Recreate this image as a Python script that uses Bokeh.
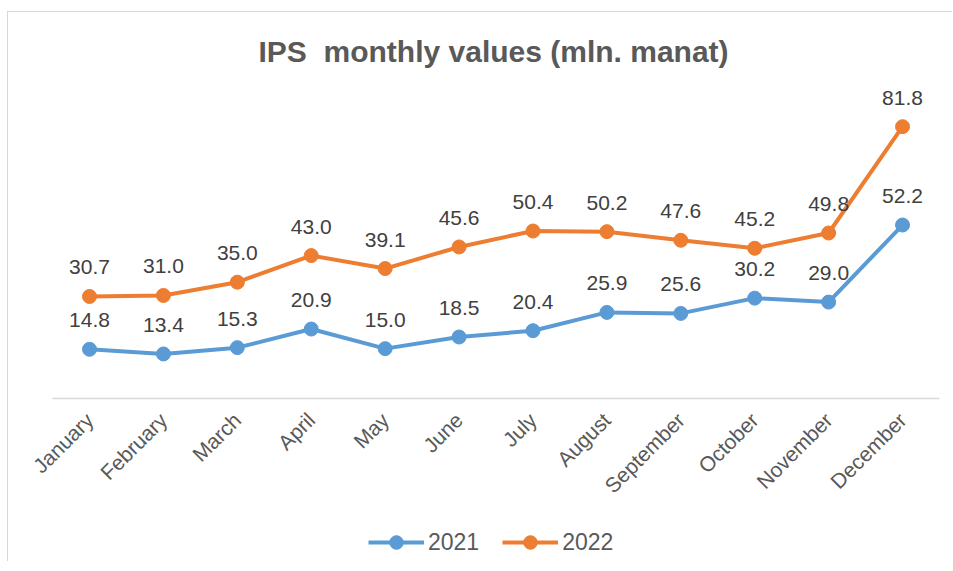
import math
from bokeh.plotting import figure
from bokeh.models import Range1d, ColumnDataSource, Legend, LegendItem, FixedTicker
from bokeh.core.properties import value
from bokeh.embed import file_html
from bokeh.resources import INLINE

months = ["January", "February", "March", "April", "May", "June", "July",
          "August", "September", "October", "November", "December"]
values_2021 = [14.8, 13.4, 15.3, 20.9, 15.0, 18.5, 20.4, 25.9, 25.6, 30.2, 29.0, 52.2]
values_2022 = [30.7, 31.0, 35.0, 43.0, 39.1, 45.6, 50.4, 50.2, 47.6, 45.2, 49.8, 81.8]
series_names = ["2021", "2022"]
colors = ["#5B9BD5", "#ED7D31"]

FONT = "Liberation Sans"
idx = list(range(len(months)))

p = figure(width=945, height=550, output_backend="svg", toolbar_location=None,
           x_range=Range1d(-1.096, 11.5),
           y_range=Range1d(-48.76, 97.2),
           min_border_left=0, min_border_right=14, min_border_top=63, min_border_bottom=2,
           margin=(11, 0, 0, 7),
           styles={"border-top": "1px solid #d9d9d9", "border-left": "1px solid #d9d9d9"})

p.outline_line_color = None
p.xgrid.visible = False
p.ygrid.visible = False
p.yaxis.visible = False

p.title.text = "IPS\u00a0 monthly values (mln. manat)"
p.title.align = "left"
p.title.text_font = FONT
p.title.text_font_size = "30px"
p.title.text_font_style = "bold"
p.title.text_color = "#595959"
p.title.offset = 250
p.title.standoff = 15

ax = p.xaxis[0]
ax.fixed_location = 0
ax.bounds = (-0.5, 11.5)
ax.ticker = FixedTicker(ticks=idx)
ax.major_label_overrides = {i: m for i, m in zip(idx, months)}
ax.axis_line_color = "#d9d9d9"
ax.axis_line_width = 1.5
ax.major_tick_line_color = None
ax.minor_tick_line_color = None
ax.major_label_orientation = math.pi / 4
ax.major_label_text_font = FONT
ax.major_label_text_font_size = "21px"
ax.major_label_text_color = "#595959"
ax.major_label_standoff = 12

items = []
for name, vals, col in zip(series_names, [values_2021, values_2022], colors):
    src = ColumnDataSource(dict(x=idx, y=vals, lab=[f"{v:.1f}" for v in vals]))
    r1 = p.line("x", "y", source=src, line_color=col, line_width=4)
    r2 = p.scatter("x", "y", source=src, size=14, fill_color=col, line_color=col)
    p.text("x", "y", text="lab", source=src, text_align="center", text_baseline="middle",
           y_offset=-29, text_font=value(FONT), text_font_size="21px", text_color="#404040")
    items.append(LegendItem(label=name, renderers=[r1, r2]))

legend = Legend(items=items, orientation="horizontal", location=(360, 1),
                glyph_width=56, glyph_height=34, label_standoff=4, spacing=23,
                padding=0, margin=0, border_line_color=None, background_fill_alpha=0,
                label_text_font=FONT, label_text_font_size="23px", label_text_color="#595959")
p.add_layout(legend, "center")

open("out.html", "w").write(file_html(p, INLINE))
